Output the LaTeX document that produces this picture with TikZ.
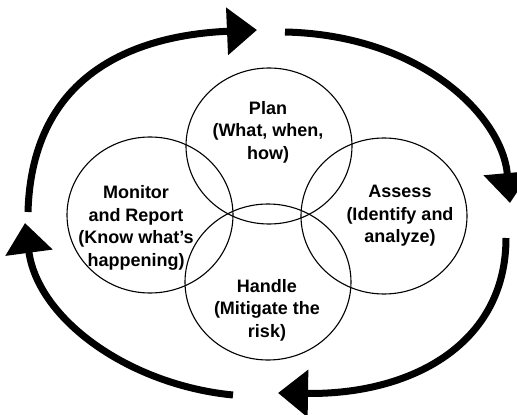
\documentclass[tikz,border=0pt]{standalone}
\usepackage{fontspec}
\setmainfont{Liberation Sans}
\usetikzlibrary{arrows.meta,shapes.geometric}
\begin{document}
\begin{tikzpicture}[x=1pt, y=-1pt,
		phase/.style={ellipse, draw, line width=1.1pt, minimum width=166pt, minimum height=156pt, inner sep=0pt},
		phasetext/.style={align=center, inner sep=0pt, font=\fontsize{18}{22.5}\selectfont\bfseries},
		cyclearrow/.style={line width=7pt, -{Triangle[length=30pt, width=46pt]}}]
	\useasboundingbox (0,0) rectangle (517,415);
	\node[phase] (plan) at (269,146) {};
	\node[phase] (monitor) at (150,215) {};
	\node[phase] (assess) at (384,216) {};
	\node[phase] (handle) at (268,282) {};
	\node[phasetext] (planText) at ([shift={(-1,-14)}]plan.center) {Plan\\(What, when,\\how)};
	\node[phasetext] (monitorText) at ([shift={(-14,13)}]monitor.center) {Monitor\\and Report\\(Know what's\\happening)};
	\node[phasetext] (assessText) at ([shift={(16,0)}]assess.center) {Assess\\(Identify and\\analyze)};
	\node[phasetext] (handleText) at ([shift={(-1,28)}]handle.center) {Handle\\(Mitigate the\\risk)};
	\coordinate (leftStart) at (28,212);
	\coordinate (topTip) at (257,30);
	\coordinate (topStart) at (285,32);
	\coordinate (rightTip) at (510,203);
	\coordinate (rightStart) at (506,238);
	\coordinate (bottomTip) at (278,393);
	\coordinate (bottomStart) at (233,395);
	\coordinate (leftTip) at (25,223);
	\draw[cyclearrow] (leftStart) .. controls (32,70) and (140,35) .. (topTip);
	\draw[cyclearrow] (topStart) .. controls (420,35) and (502,115) .. (rightTip);
	\draw[cyclearrow] (rightStart) .. controls (506,345) and (410,395) .. (bottomTip);
	\draw[cyclearrow] (bottomStart) .. controls (130,385) and (38,320) .. (leftTip);
\end{tikzpicture}
\end{document}
